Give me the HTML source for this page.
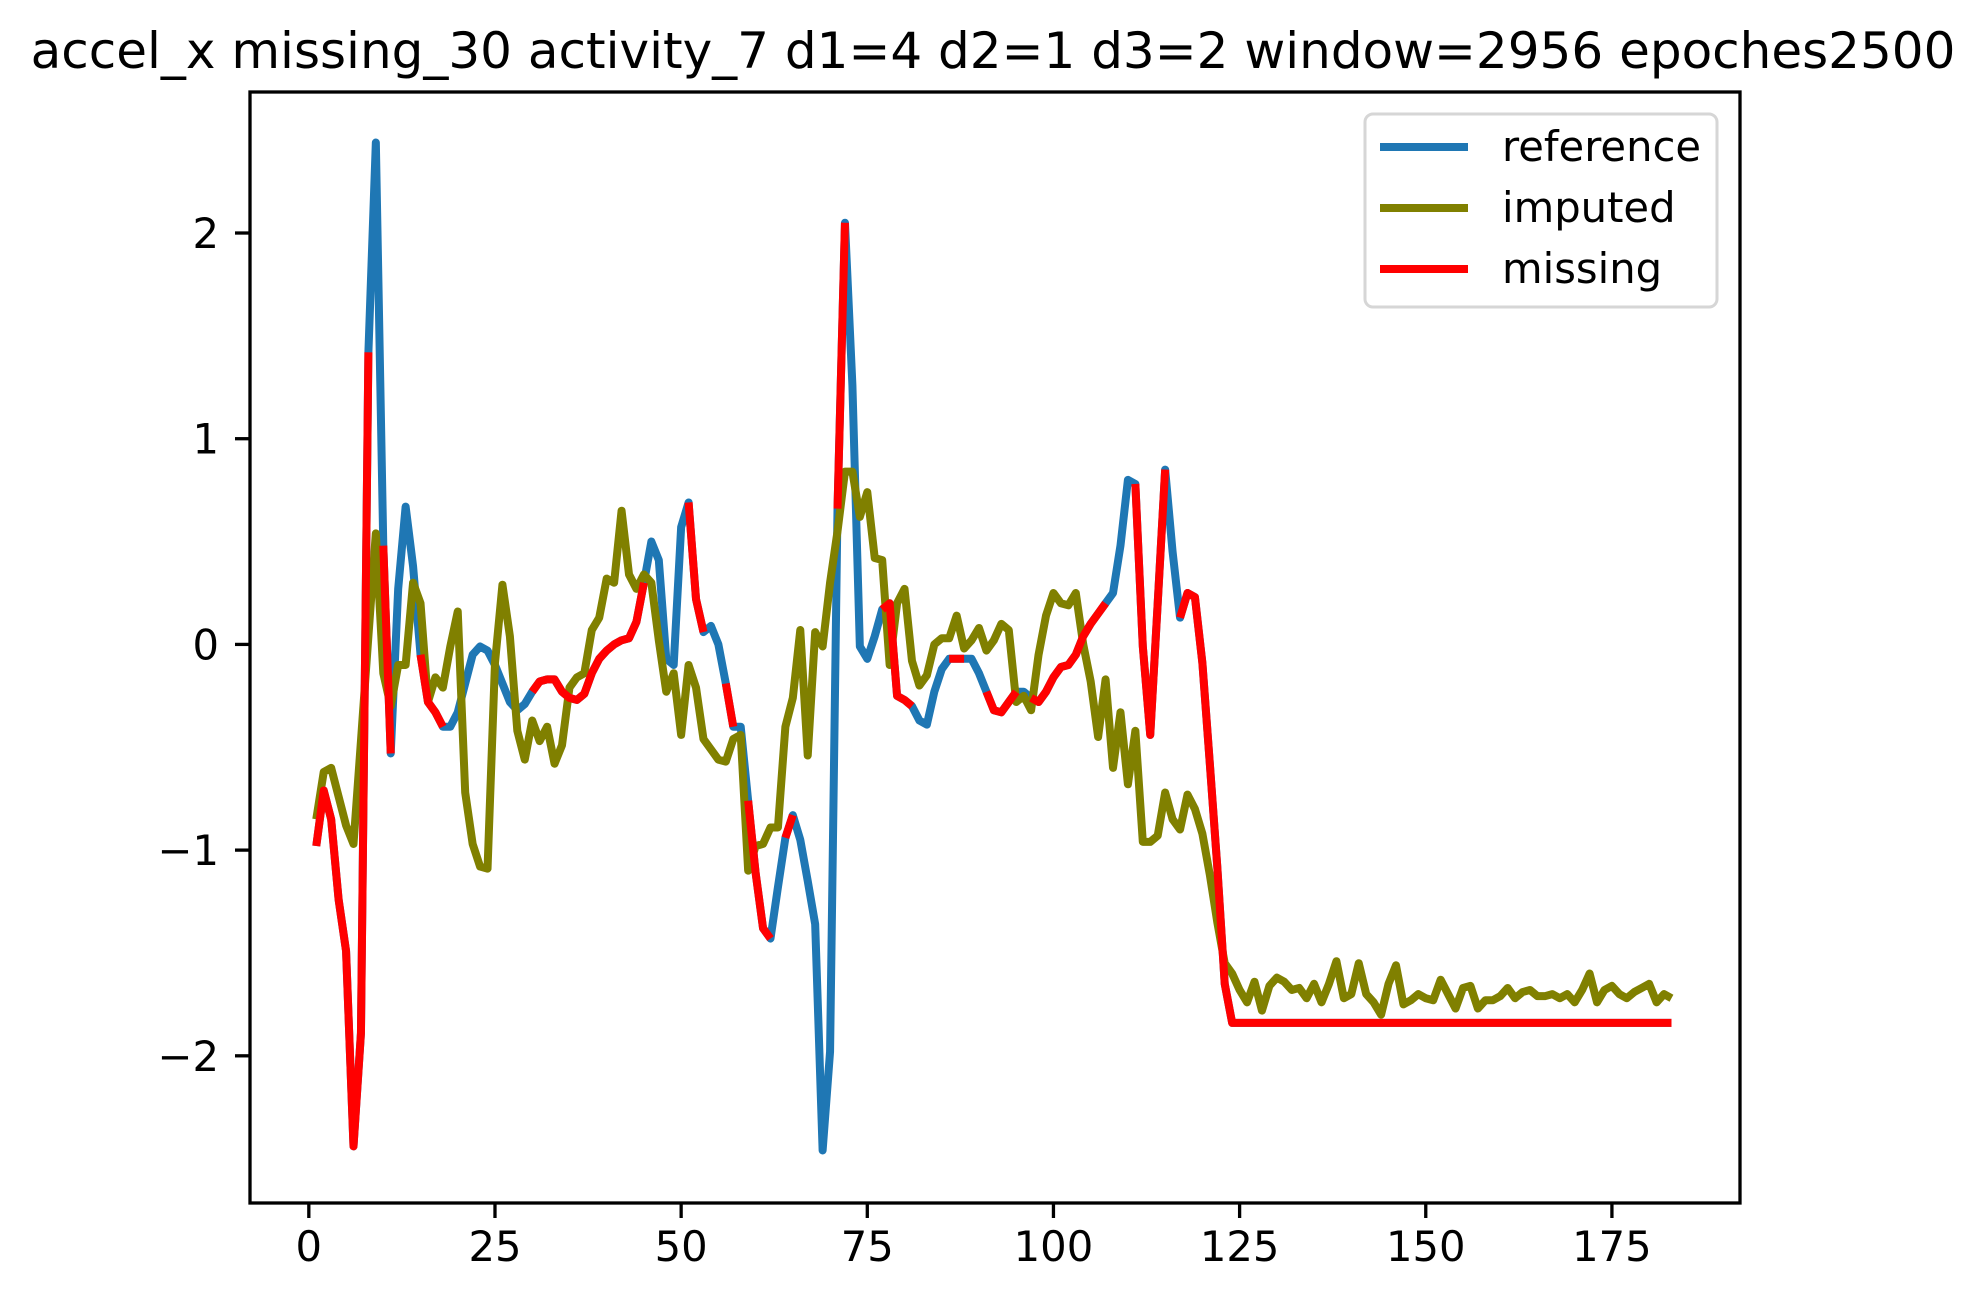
<!DOCTYPE html>
<html><head><meta charset="utf-8"><style>
html,body{margin:0;padding:0;background:#fff;}
svg{display:block;font-family:"DejaVu Sans","Liberation Sans",sans-serif;}
</style></head><body>
<svg id="chart" width="1986" height="1300" viewBox="0 0 1986 1300" xmlns="http://www.w3.org/2000/svg">
<rect x="0" y="0" width="1986" height="1300" fill="#fff"/>
<text x="993" y="68" font-size="50" text-anchor="middle" fill="#000">accel_x missing_30 activity_7 d1=4 d2=1 d3=2 window=2956 epoches2500</text>
<g id="plot"></g>
<g id="axes"></g>
<g id="legend">
<rect x="1365" y="114" width="352" height="193" rx="8" fill="#fff" fill-opacity="0.8" stroke="#d6d6d6" stroke-width="3"/>
<g><line x1="1380" y1="147" x2="1468" y2="147" stroke="#1f77b4" stroke-width="8"/><text x="1502" y="161" font-size="41.7" fill="#000">reference</text></g>
<g><line x1="1380" y1="208" x2="1468" y2="208" stroke="#808000" stroke-width="8"/><text x="1502" y="222" font-size="41.7" fill="#000">imputed</text></g>
<g><line x1="1380" y1="269" x2="1468" y2="269" stroke="#ff0000" stroke-width="8"/><text x="1502" y="283" font-size="41.7" fill="#000">missing</text></g>
</g>
</svg>
<script>
const reference = [-0.98,-0.71,-0.85,-1.24,-1.49,-2.44,-1.89,1.42,2.44,0.48,
-0.53,0.27,0.67,0.38,-0.05,-0.28,-0.33,-0.40,-0.40,-0.33,
-0.19,-0.05,-0.01,-0.03,-0.10,-0.19,-0.28,-0.32,-0.29,-0.23,
-0.18,-0.17,-0.17,-0.23,-0.26,-0.27,-0.24,-0.14,-0.07,-0.03,
0.00,0.02,0.03,0.11,0.30,0.50,0.41,-0.07,-0.10,0.57,
0.69,0.22,0.06,0.09,0.00,-0.19,-0.40,-0.40,-0.76,-1.11,
-1.38,-1.43,-1.18,-0.94,-0.83,-0.95,-1.15,-1.36,-2.46,-1.98,
0.66,2.05,1.26,-0.01,-0.07,0.04,0.17,0.20,-0.25,-0.27,
-0.30,-0.37,-0.39,-0.23,-0.12,-0.07,-0.07,-0.07,-0.07,-0.14,
-0.23,-0.32,-0.33,-0.28,-0.23,-0.23,-0.26,-0.28,-0.23,-0.16,
-0.11,-0.10,-0.05,0.04,0.10,0.15,0.20,0.25,0.48,0.80,
0.78,-0.01,-0.44,0.20,0.85,0.45,0.13,0.25,0.23,-0.09,
-0.58,-1.08,-1.65,-1.84,-1.84,-1.84,-1.84,-1.84,-1.84,-1.84,
-1.84,-1.84,-1.84,-1.84,-1.84,-1.84,-1.84,-1.84,-1.84,-1.84,
-1.84,-1.84,-1.84,-1.84,-1.84,-1.84,-1.84,-1.84,-1.84,-1.84,
-1.84,-1.84,-1.84,-1.84,-1.84,-1.84,-1.84,-1.84,-1.84,-1.84,
-1.84,-1.84,-1.84,-1.84,-1.84,-1.84,-1.84,-1.84,-1.84,-1.84,
-1.84,-1.84,-1.84,-1.84,-1.84,-1.84,-1.84,-1.84,-1.84,-1.84,
-1.84,-1.84,-1.84];
const imputed = [-0.85,-0.62,-0.60,-0.74,-0.88,-0.97,-0.47,0.04,0.54,-0.14,
-0.30,-0.10,-0.10,0.30,0.20,-0.28,-0.16,-0.21,-0.01,0.16,
-0.72,-0.97,-1.08,-1.09,-0.09,0.29,0.04,-0.42,-0.56,-0.37,
-0.47,-0.40,-0.58,-0.49,-0.21,-0.16,-0.14,0.07,0.13,0.32,
0.30,0.65,0.34,0.27,0.34,0.30,0.02,-0.23,-0.14,-0.44,
-0.10,-0.21,-0.46,-0.51,-0.56,-0.57,-0.46,-0.44,-1.10,-0.98,
-0.97,-0.89,-0.89,-0.40,-0.26,0.07,-0.54,0.06,-0.01,0.30,
0.55,0.84,0.84,0.62,0.74,0.42,0.41,-0.10,0.20,0.27,
-0.08,-0.20,-0.15,0.00,0.03,0.03,0.14,-0.02,0.02,0.08,
-0.03,0.02,0.10,0.07,-0.28,-0.25,-0.32,-0.05,0.14,0.25,
0.20,0.19,0.25,0.00,-0.18,-0.45,-0.17,-0.60,-0.33,-0.68,
-0.42,-0.96,-0.96,-0.93,-0.72,-0.85,-0.90,-0.73,-0.80,-0.92,
-1.12,-1.35,-1.55,-1.60,-1.68,-1.74,-1.64,-1.78,-1.66,-1.62,
-1.64,-1.68,-1.67,-1.72,-1.65,-1.74,-1.65,-1.54,-1.72,-1.70,
-1.55,-1.70,-1.74,-1.80,-1.65,-1.56,-1.75,-1.73,-1.70,-1.72,
-1.73,-1.63,-1.70,-1.77,-1.67,-1.66,-1.77,-1.73,-1.73,-1.71,
-1.67,-1.72,-1.69,-1.68,-1.71,-1.71,-1.70,-1.72,-1.70,-1.74,
-1.68,-1.60,-1.74,-1.68,-1.66,-1.70,-1.72,-1.69,-1.67,-1.65,
-1.74,-1.70,-1.72];
const missingRanges = [[1,8],[10,11],[15,18],[30,45],[51,53],[56,57],[59,62],[64,65],[71,72],[77,81],[86,88],[91,95],[97,107],[111,115],[117,183]];
const xTicks = [0,25,50,75,100,125,150,175];
const yTicks = [-2,-1,0,1,2];
const yTickLabels = ["\u22122","\u22121","0","1","2"];

const AX = {left:250, right:1740, top:92, bottom:1203};
const XMIN = -7.9, XMAX = 192.2, YMIN = -2.7155, YMAX = 2.6855;
function xs(v){ return AX.left + (v - XMIN) / (XMAX - XMIN) * (AX.right - AX.left); }
function ys(v){ return AX.bottom - (v - YMIN) / (YMAX - YMIN) * (AX.bottom - AX.top); }

const NS = "http://www.w3.org/2000/svg";
const plot = document.getElementById('plot');
const axes = document.getElementById('axes');

const missing = reference.map((v,i)=>{
  const x = i+1;
  return missingRanges.some(r=>x>=r[0]&&x<=r[1]) ? v : null;
});

function drawSeries(arr, color, name){
  let d = '', pen = false;
  arr.forEach((v,i)=>{
    if (v === null) { pen = false; return; }
    d += (pen ? 'L' : 'M') + xs(i+1).toFixed(2) + ' ' + ys(v).toFixed(2) + ' ';
    pen = true;
  });
  const p = document.createElementNS(NS,'path');
  p.setAttribute('d', d);
  p.setAttribute('fill','none');
  p.setAttribute('stroke', color);
  p.setAttribute('stroke-width','8');
  p.setAttribute('stroke-linejoin','round');
  p.setAttribute('stroke-linecap','butt');
  
  
  plot.appendChild(p);
}
drawSeries(reference, '#1f77b4', 'reference-line');
drawSeries(imputed, '#808000', 'imputed-line');
drawSeries(missing, '#ff0000', 'missing-line');

const frame = document.createElementNS(NS,'rect');
frame.setAttribute('x', AX.left); frame.setAttribute('y', AX.top);
frame.setAttribute('width', AX.right-AX.left); frame.setAttribute('height', AX.bottom-AX.top);
frame.setAttribute('fill','none'); frame.setAttribute('stroke','#000'); frame.setAttribute('stroke-width','3.3');


axes.appendChild(frame);

xTicks.forEach(t=>{
  const x = xs(t);
  const l = document.createElementNS(NS,'line');
  l.setAttribute('x1',x); l.setAttribute('x2',x); l.setAttribute('y1',AX.bottom); l.setAttribute('y2',AX.bottom+15);
  l.setAttribute('stroke','#000'); l.setAttribute('stroke-width','3.3');
  
  
  axes.appendChild(l);
  const tx = document.createElementNS(NS,'text');
  tx.setAttribute('x',x); tx.setAttribute('y',AX.bottom+58);
  tx.setAttribute('font-size','41.7'); tx.setAttribute('text-anchor','middle');
  tx.textContent = String(t);
  
  
  axes.appendChild(tx);
});
yTicks.forEach((t,i)=>{
  const y = ys(t);
  const l = document.createElementNS(NS,'line');
  l.setAttribute('x1',AX.left-15); l.setAttribute('x2',AX.left); l.setAttribute('y1',y); l.setAttribute('y2',y);
  l.setAttribute('stroke','#000'); l.setAttribute('stroke-width','3.3');
  
  
  axes.appendChild(l);
  const tx = document.createElementNS(NS,'text');
  tx.setAttribute('x',AX.left-31); tx.setAttribute('y',y+15);
  tx.setAttribute('font-size','41.7'); tx.setAttribute('text-anchor','end');
  tx.textContent = yTickLabels[i];
  
  
  axes.appendChild(tx);
});
</script>
</body></html>
